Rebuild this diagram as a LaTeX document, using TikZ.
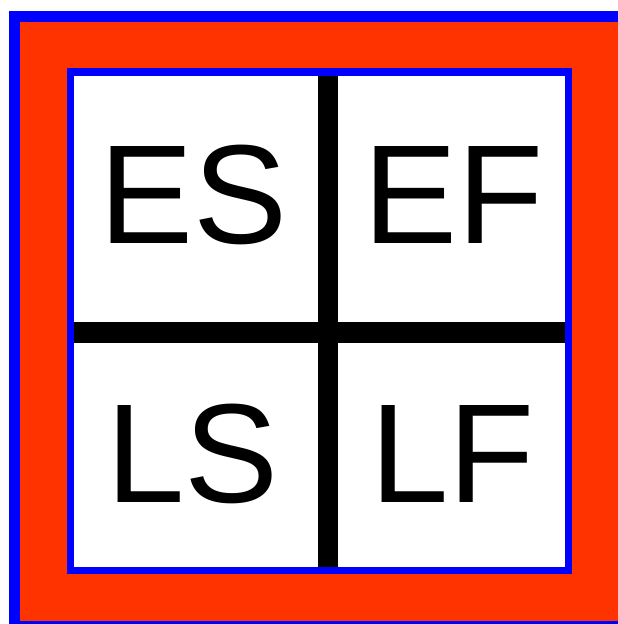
\documentclass[tikz,border=0pt]{standalone}
\usepackage{fontspec}
\setmainfont{Liberation Sans}
\definecolor{frred}{HTML}{FF3300}
\definecolor{frblue}{HTML}{0000FF}
\begin{document}
\begin{tikzpicture}[x=1pt,y=-1pt,
  lbl/.style={anchor=base west,inner sep=0pt,font=\fontsize{141}{141}\selectfont}]
\useasboundingbox (0,0) rectangle (618,624);
\begin{scope}
\clip (0,0) rectangle (618,624);
\fill[frblue] (9,11) rectangle (700,700);
\fill[frred] (20,22) rectangle (700,621);
\fill[frblue] (67,68) rectangle (572,574);
\fill[white] (74,76) rectangle (565,567);
\fill[black] (317.5,76) rectangle (337.5,567);
\fill[black] (74,322) rectangle (565,342.5);
\end{scope}
\node[lbl] (es) at (99,243) {ES};
\node[lbl] (ef) at (363,243) {EF};
\node[lbl] (ls) at (106,502) {LS};
\node[lbl] (lf) at (370,502) {LF};
\end{tikzpicture}
\end{document}
